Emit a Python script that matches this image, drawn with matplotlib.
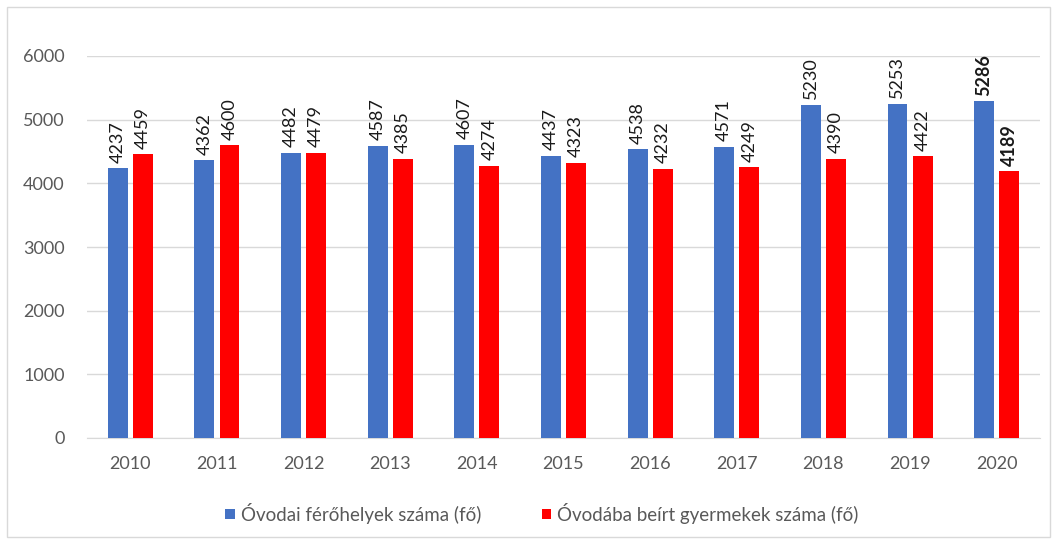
import matplotlib.pyplot as plt
import numpy as np
from matplotlib.patches import Rectangle

years = ["2010", "2011", "2012", "2013", "2014", "2015", "2016", "2017", "2018", "2019", "2020"]
ferohely = [4237, 4362, 4482, 4587, 4607, 4437, 4538, 4571, 5230, 5253, 5286]
beirt = [4459, 4600, 4479, 4385, 4274, 4323, 4232, 4249, 4390, 4422, 4189]

plt.rcParams['font.family'] = ['Lato', 'DejaVu Sans']

fig = plt.figure(figsize=(10.56, 5.43), dpi=100)
ax = fig.add_axes([87/1056, 1 - 438/543, (1040-87)/1056, (438-56)/543])

x = np.arange(len(years))
w = 0.23
off = 0.145
b1 = ax.bar(x - off, ferohely, w, color='#4472c4', label='Óvodai férőhelyek száma (fő)', zorder=3)
b2 = ax.bar(x + off, beirt, w, color='#ff0000', label='Óvodába beírt gyermekek száma (fő)', zorder=3)

for bars in (b1, b2):
    for i, r in enumerate(bars):
        ax.annotate(str(int(r.get_height())), (r.get_x() + r.get_width()/2, r.get_height()),
                    xytext=(0, 4), textcoords='offset points', ha='center', va='bottom',
                    rotation=90, fontsize=13, color='#1a1a1a',
                    fontweight='bold' if i == len(years) - 1 else 'normal')

ax.set_xlim(-0.5, len(years) - 0.5)
ax.set_ylim(0, 6000)
ax.set_yticks(range(0, 6001, 1000))
ax.set_xticks(x)
ax.set_xticklabels(years)
ax.yaxis.grid(True, color='#d9d9d9', lw=1, zorder=0)
for s in ['top', 'right', 'left']:
    ax.spines[s].set_visible(False)
ax.spines['bottom'].set_color('#d9d9d9')
ax.tick_params(length=0, labelsize=13, colors='#595959')
ax.tick_params(axis='x', pad=13)
ax.tick_params(axis='y', pad=16)

fig.legend(handles=[b1, b2], loc='center', bbox_to_anchor=(542/1056, 1 - 513/543), ncol=2,
           frameon=False, fontsize=13.5, labelcolor='#595959', handlelength=0.5, handleheight=0.5,
           handletextpad=0.35, columnspacing=3.2)

fig.patches.append(Rectangle((7/1056, 6/543), 1043/1056, 530/543, transform=fig.transFigure,
                             fill=False, edgecolor='#d9d9d9', lw=1))

fig.savefig('out.png', dpi=100)
